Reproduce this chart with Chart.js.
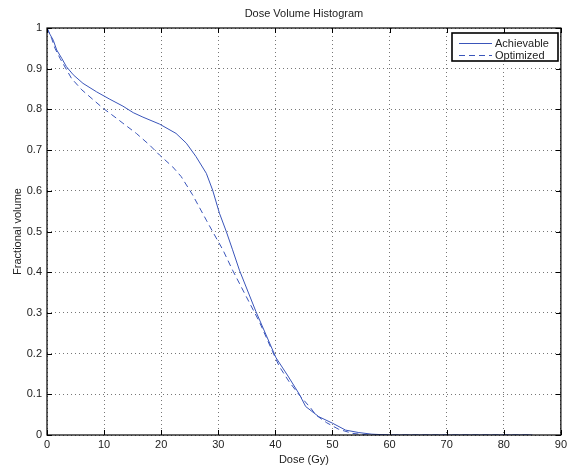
<!DOCTYPE html>
<html>
<head>
<meta charset="utf-8">
<script src="https://cdn.jsdelivr.net/npm/chart.js@4/dist/chart.umd.min.js"></script>
<style>
  html, body { margin: 0; padding: 0; background: #fff; }
  #wrap { width: 570px; height: 467px; }
</style>
</head>
<body>
<div id="wrap"><canvas id="dvh" width="570" height="467"></canvas></div>
<script>
// dose-volume curves (dose in Gy, fractional volume)
const achDose = [0, 0.5, 1.1, 1.7, 2.6, 3.4, 4.6, 6.3, 8.7, 11.0, 13.3, 15.1, 16.8, 19.7, 22.6, 24.4, 26.1, 27.9, 29.0, 30.2, 31.4, 32.5, 33.7, 36.6, 40.1, 42.2, 44.2, 45.3, 47.6, 50.0, 52.3, 54.6, 56.9, 60, 85];
const achVol = [1.0, 0.985, 0.97, 0.946, 0.925, 0.905, 0.885, 0.864, 0.843, 0.825, 0.808, 0.792, 0.781, 0.764, 0.741, 0.717, 0.684, 0.643, 0.602, 0.545, 0.5, 0.455, 0.405, 0.303, 0.19, 0.145, 0.10, 0.07, 0.045, 0.029, 0.012, 0.006, 0.002, 0, 0];
const optDose = [0, 0.8, 1.4, 2.3, 4.3, 6.1, 9.8, 12.2, 13.3, 15.65, 18.0, 19.7, 22.0, 23.5, 25.5, 27.9, 29.0, 30.8, 32.5, 34.9, 37.2, 39.5, 40.7, 42.4, 44.2, 46.2, 47.1, 49.0, 51.1, 53.5, 56, 85];
const optVol = [1.0, 0.975, 0.95, 0.925, 0.876, 0.848, 0.803, 0.778, 0.766, 0.741, 0.712, 0.688, 0.659, 0.635, 0.59, 0.528, 0.5, 0.455, 0.405, 0.34, 0.278, 0.205, 0.168, 0.131, 0.098, 0.066, 0.049, 0.03, 0.014, 0.004, 0, 0];
const seriesNames = ['Achievable', 'Optimized'];
const titleText = 'Dose Volume Histogram';

const FONT = '"Liberation Sans", Arial, sans-serif';
const BLUE = '#3a55ba';

const toPts = (xs, ys) => xs.map((x, i) => ({ x, y: ys[i] }));

// frame, inward ticks, title and boxed legend
const matlabAxes = {
  id: 'matlabAxes',
  afterDraw(chart) {
    const { ctx, chartArea: a, scales } = chart;
    ctx.save();
    ctx.strokeStyle = '#000';
    ctx.lineWidth = 1;
    const T = 5;
    ctx.beginPath();
    scales.x.ticks.forEach(t => {
      const px = Math.round(scales.x.getPixelForValue(t.value)) + 0.5;
      ctx.moveTo(px, a.bottom); ctx.lineTo(px, a.bottom - T);
      ctx.moveTo(px, a.top); ctx.lineTo(px, a.top + T);
    });
    scales.y.ticks.forEach(t => {
      const py = Math.round(scales.y.getPixelForValue(t.value)) + 0.5;
      ctx.moveTo(a.left, py); ctx.lineTo(a.left + T, py);
      ctx.moveTo(a.right, py); ctx.lineTo(a.right - T, py);
    });
    ctx.stroke();
    ctx.lineWidth = 1.2;
    ctx.strokeRect(a.left, a.top, a.right - a.left, a.bottom - a.top);

    ctx.fillStyle = '#222';
    ctx.font = '11px ' + FONT;
    ctx.textAlign = 'center';
    ctx.textBaseline = 'middle';
    ctx.fillText(titleText, (a.left + a.right) / 2, 14);

    // legend
    const bx = 452, by = 33, bw = 106, bh = 28;
    ctx.fillStyle = '#fff';
    ctx.fillRect(bx, by, bw, bh);
    ctx.lineWidth = 1.6;
    ctx.strokeRect(bx, by, bw, bh);
    chart.data.datasets.forEach((ds, i) => {
      const y = by + 10 + i * 12;
      ctx.strokeStyle = ds.borderColor;
      ctx.lineWidth = 1;
      ctx.setLineDash(ds.borderDash || []);
      ctx.beginPath();
      ctx.moveTo(bx + 7, y + 0.5); ctx.lineTo(bx + 40, y + 0.5);
      ctx.stroke();
      ctx.setLineDash([]);
      ctx.fillStyle = '#222';
      ctx.textAlign = 'left';
      ctx.fillText(ds.label, bx + 43, y + 0.5);
    });
    ctx.restore();
  }
};

new Chart(document.getElementById('dvh'), {
  type: 'line',
  data: {
    datasets: [
      { label: seriesNames[0], data: toPts(achDose, achVol), borderColor: BLUE, borderWidth: 1, pointRadius: 0, tension: 0 },
      { label: seriesNames[1], data: toPts(optDose, optVol), borderColor: BLUE, borderWidth: 1, borderDash: [6, 4], pointRadius: 0, tension: 0 }
    ]
  },
  options: {
    responsive: false,
    animation: false,
    layout: { padding: { top: 28, right: 7, left: 11, bottom: 0 } },
    plugins: { legend: { display: false }, title: { display: false }, tooltip: { enabled: false } },
    scales: {
      x: {
        type: 'linear', min: 0, max: 90,
        ticks: { stepSize: 10, color: '#222', font: { family: FONT, size: 11 }, padding: 3, maxRotation: 0 },
        grid: { color: '#777', drawTicks: false },
        border: { display: false, dash: [1, 3] },
        title: { display: true, text: 'Dose (Gy)', color: '#222', font: { family: FONT, size: 11 }, padding: { top: 0, bottom: 0 } },
        afterFit(s) { s.height = 32; }
      },
      y: {
        type: 'linear', min: 0, max: 1,
        ticks: { stepSize: 0.1, color: '#222', font: { family: FONT, size: 11 }, padding: 5,
          callback: v => Math.round(v * 10) / 10 },
        grid: { color: '#777', drawTicks: false },
        border: { display: false, dash: [1, 3] },
        title: { display: true, text: 'Fractional volume', color: '#222', font: { family: FONT, size: 11 }, padding: { top: 0, bottom: 2 } },
        afterFit(s) { s.width = 36; }
      }
    }
  },
  plugins: [matlabAxes]
});
</script>
</body>
</html>
